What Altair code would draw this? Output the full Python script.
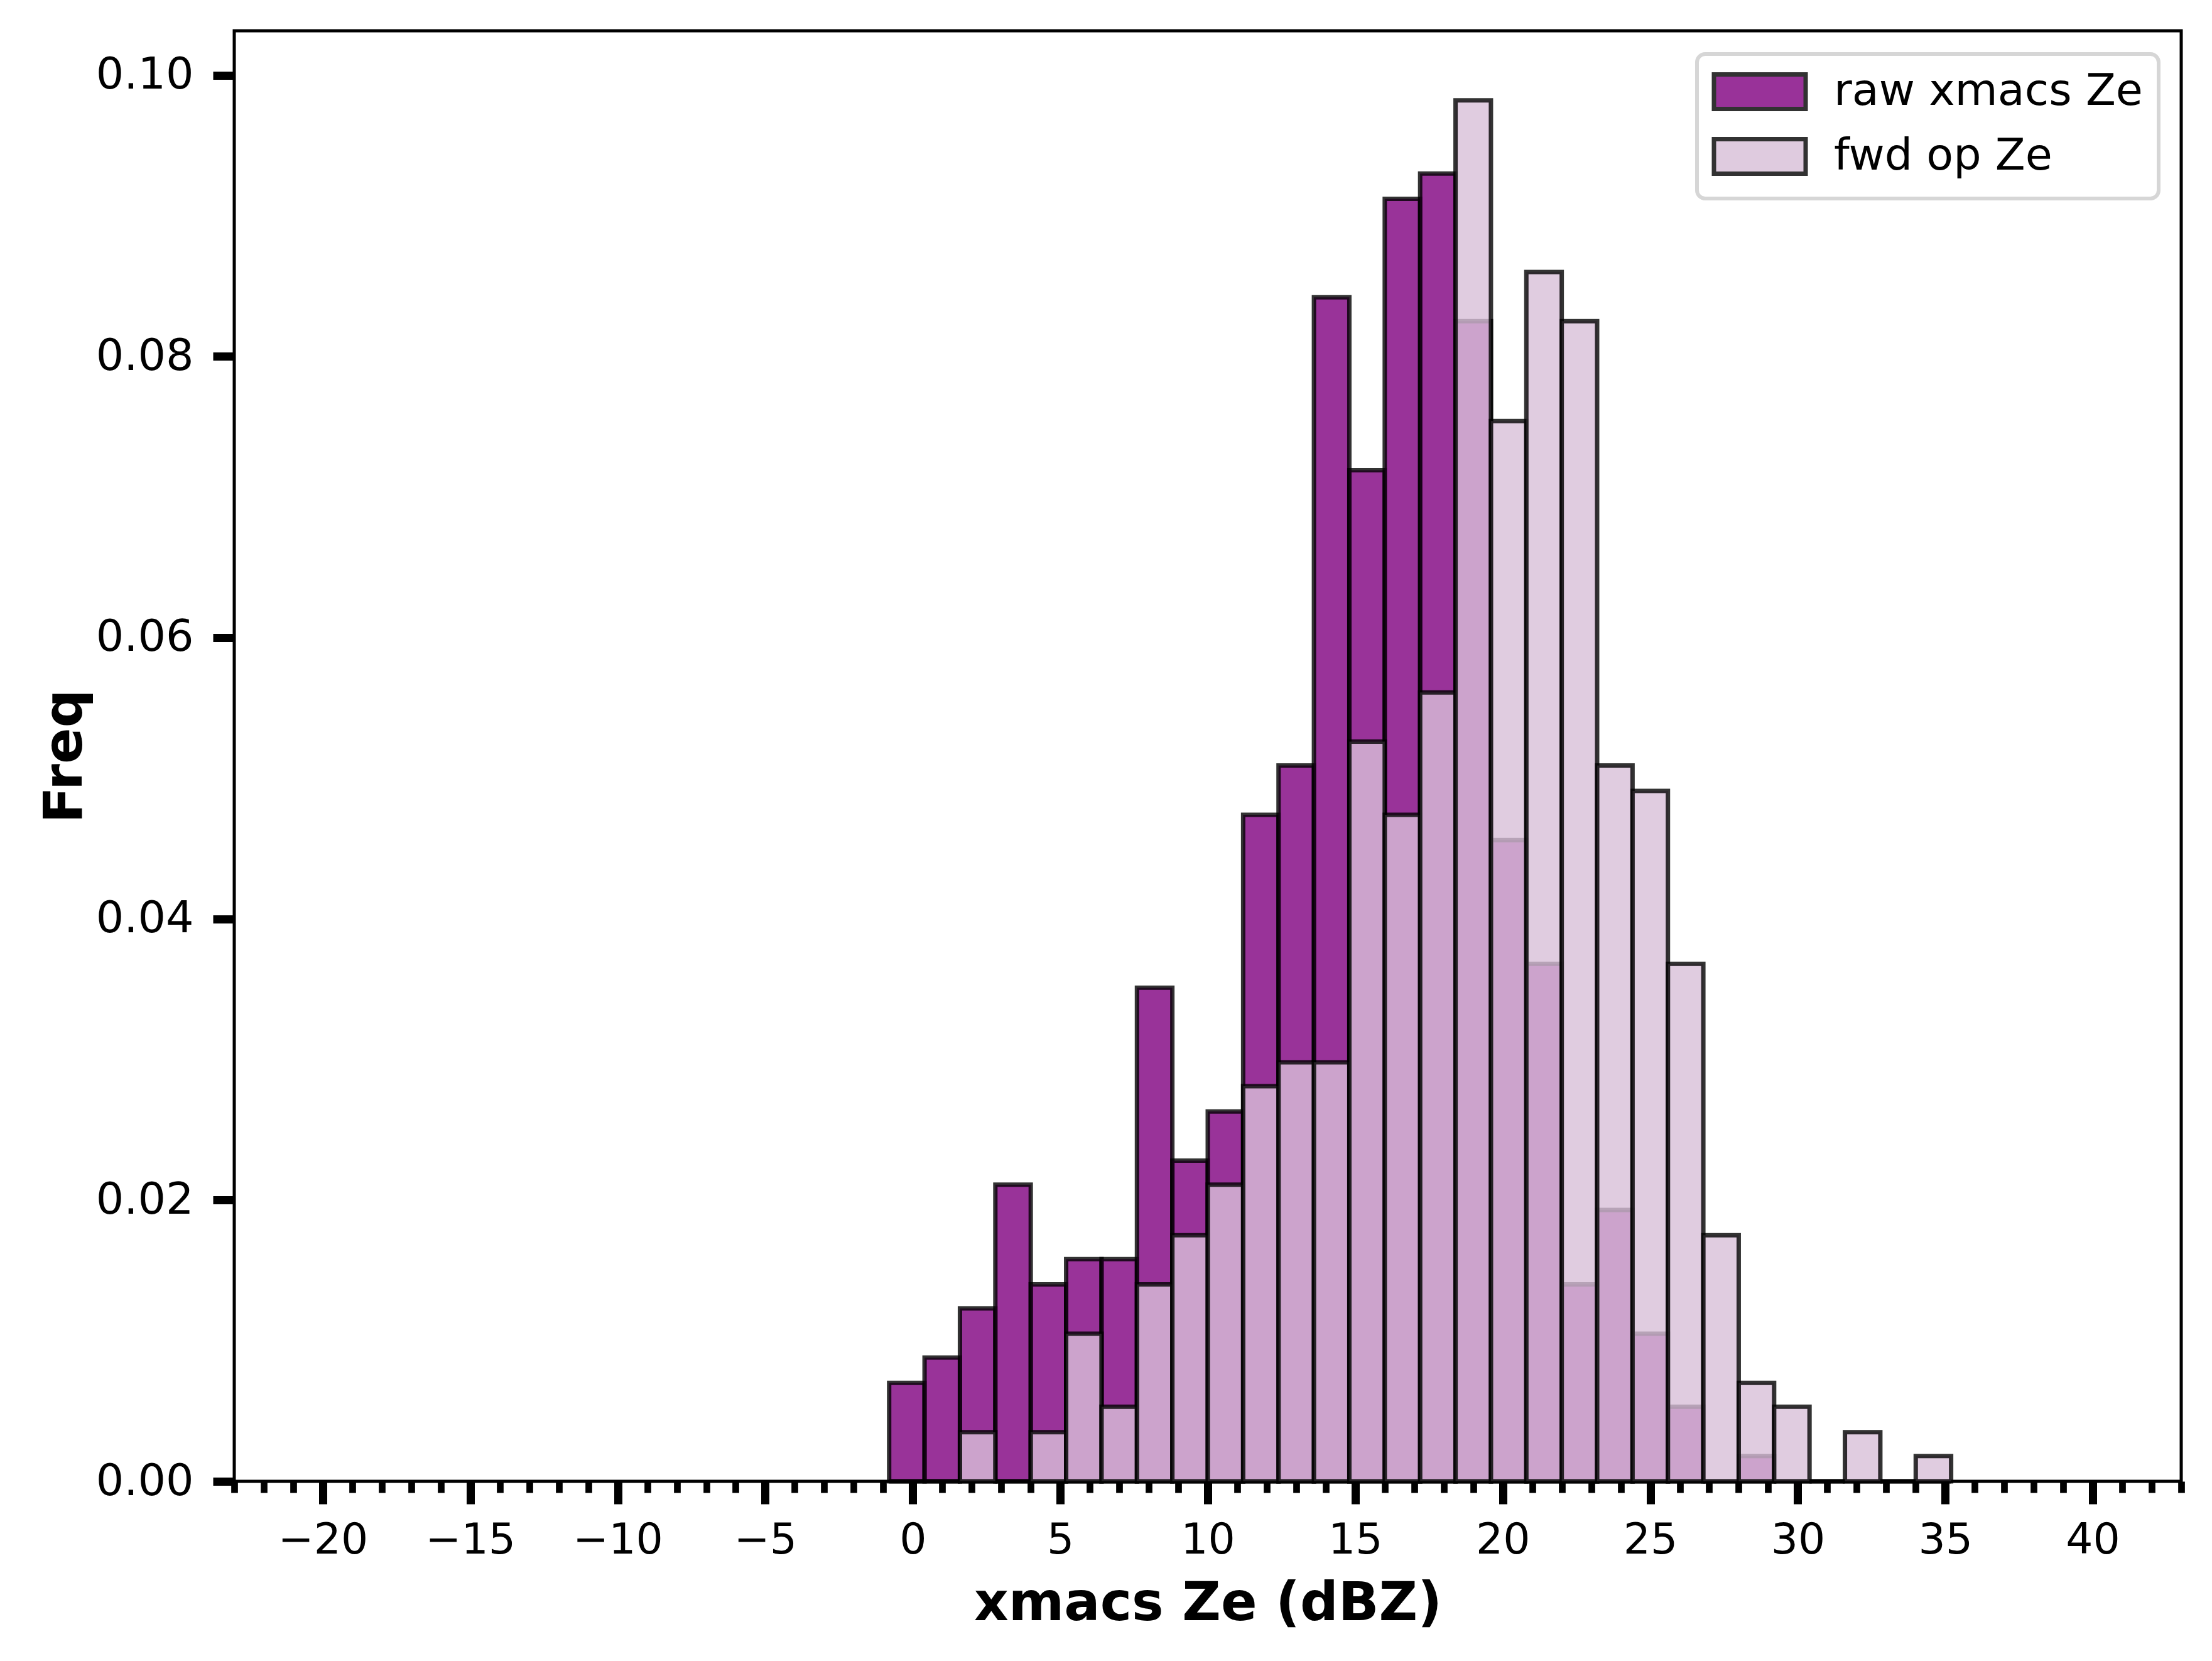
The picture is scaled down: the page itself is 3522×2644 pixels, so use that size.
import altair as alt
import pandas as pd

# ---- data ----
bin_left = [-0.8, 0.4, 1.6, 2.8, 4.0, 5.2, 6.4, 7.6, 8.8, 10.0,
            11.2, 12.4, 13.6, 14.8, 16.0, 17.2, 18.4, 19.6, 20.8, 22.0,
            23.2, 24.4, 25.6, 26.8, 28.0, 29.2, 30.4, 31.6, 32.8, 34.0]
bin_right = [0.4, 1.6, 2.8, 4.0, 5.2, 6.4, 7.6, 8.8, 10.0, 11.2,
             12.4, 13.6, 14.8, 16.0, 17.2, 18.4, 19.6, 20.8, 22.0, 23.2,
             24.4, 25.6, 26.8, 28.0, 29.2, 30.4, 31.6, 32.8, 34.0, 35.2]
raw_freq = [0.0070, 0.0088, 0.0123, 0.0211, 0.0140, 0.0158, 0.0158, 0.0351, 0.0228, 0.0263,
            0.0474, 0.0509, 0.0842, 0.0719, 0.0912, 0.0930, 0.0825, 0.0456, 0.0368, 0.0140,
            0.0193, 0.0105, 0.0053, 0.0, 0.0018, 0.0, 0.0, 0.0, 0.0, 0.0]
fwd_freq = [0.0, 0.0, 0.0035, 0.0, 0.0035, 0.0105, 0.0053, 0.0140, 0.0175, 0.0211,
            0.0281, 0.0298, 0.0298, 0.0526, 0.0474, 0.0561, 0.0982, 0.0754, 0.0860, 0.0825,
            0.0509, 0.0491, 0.0368, 0.0175, 0.0070, 0.0053, 0.0, 0.0035, 0.0, 0.0018]
series_names = ["raw xmacs Ze", "fwd op Ze"]
series_colors = ["#800080", "#D8BFD8"]
x_major = [-20, -15, -10, -5, 0, 5, 10, 15, 20, 25, 30, 35, 40]
x_minor = [v for v in range(-23, 44) if v % 5 != 0]
y_ticks = [0.0, 0.02, 0.04, 0.06, 0.08, 0.10]
x_domain = [-23, 43]
y_domain = [0, 0.10315]

rows = []
for name, freqs in zip(series_names, [raw_freq, fwd_freq]):
    for l, r, f in zip(bin_left, bin_right, freqs):
        rows.append({"series": name, "left": l, "right": r, "freq": f})
df = pd.DataFrame(rows)

FONT = "DejaVu Sans"

color = alt.Color(
    "series:N",
    scale=alt.Scale(domain=series_names, range=series_colors),
    legend=alt.Legend(
        title=None, orient="none", legendX=2329, legendY=37,
        symbolType="M-2.92,-1.1L2.92,-1.1L2.92,1.1L-2.92,1.1Z",
        symbolSize=2500, symbolStrokeColor="black", symbolStrokeWidth=7,
        symbolOpacity=0.8, symbolOffset=40, labelOffset=83,
        labelFontSize=70, labelFont=FONT, labelColor="black", labelLimit=1000,
        padding=25, fillColor="white", strokeColor="#d6d6d6",
        cornerRadius=13,
    ),
)

y_enc = alt.Y(
    "freq:Q", stack=None,
    scale=alt.Scale(domain=y_domain, nice=False, zero=True),
    axis=alt.Axis(
        values=y_ticks, format=".2f", tickSize=34, tickWidth=13, tickColor="black",
        labelFontSize=70, labelFont=FONT, labelColor="black", labelPadding=31,
        domain=False, grid=False, title="Freq", titleFontSize=85,
        titleFontWeight="bold", titleFont=FONT, titleColor="black", titlePadding=26,
    ),
)

bar_style = dict(fillOpacity=0.8, stroke="black", strokeOpacity=0.8, strokeWidth=7)

raw = alt.Chart(df).transform_filter(alt.datum.series == series_names[0]).mark_rect(**bar_style).encode(
    x=alt.X("left:Q", scale=alt.Scale(domain=x_domain, nice=False, zero=False),
            axis=alt.Axis(values=x_minor, tickSize=18, tickWidth=10.7, tickColor="black",
                          labels=False, domain=False, grid=False, title=None, orient="bottom")),
    x2="right:Q",
    y=y_enc,
    y2=alt.datum(0),
    color=color,
)

fwd = alt.Chart(df).transform_filter(alt.datum.series == series_names[1]).mark_rect(**bar_style).encode(
    x=alt.X("left:Q", scale=alt.Scale(domain=x_domain, nice=False, zero=False),
            axis=alt.Axis(values=x_major, format="d", tickSize=36, tickWidth=13, tickColor="black",
                          labelFontSize=68, labelFont=FONT, labelColor="black", labelPadding=24,
                          labelFlush=False, labelOverlap=False,
                          domain=False, grid=False, title="xmacs Ze (dBZ)", titleFontSize=85,
                          titleFontWeight="bold", titleFont=FONT, titleColor="black",
                          titlePadding=25, orient="bottom")),
    x2="right:Q",
    y=y_enc,
    y2=alt.datum(0),
    color=color,
)

chart = alt.layer(raw, fwd).resolve_scale(x="independent").properties(
    width=3100, height=2309,
    padding={"left": 365, "top": 41, "right": 40, "bottom": 270},
    autosize=alt.AutoSizeParams(type="none"),
    background="white",
).configure_view(stroke="black", strokeWidth=5).configure_legend(
    strokeWidth=6, rowPadding=19
)

chart.save("out.html", embed_options={"renderer": "svg", "actions": False})
